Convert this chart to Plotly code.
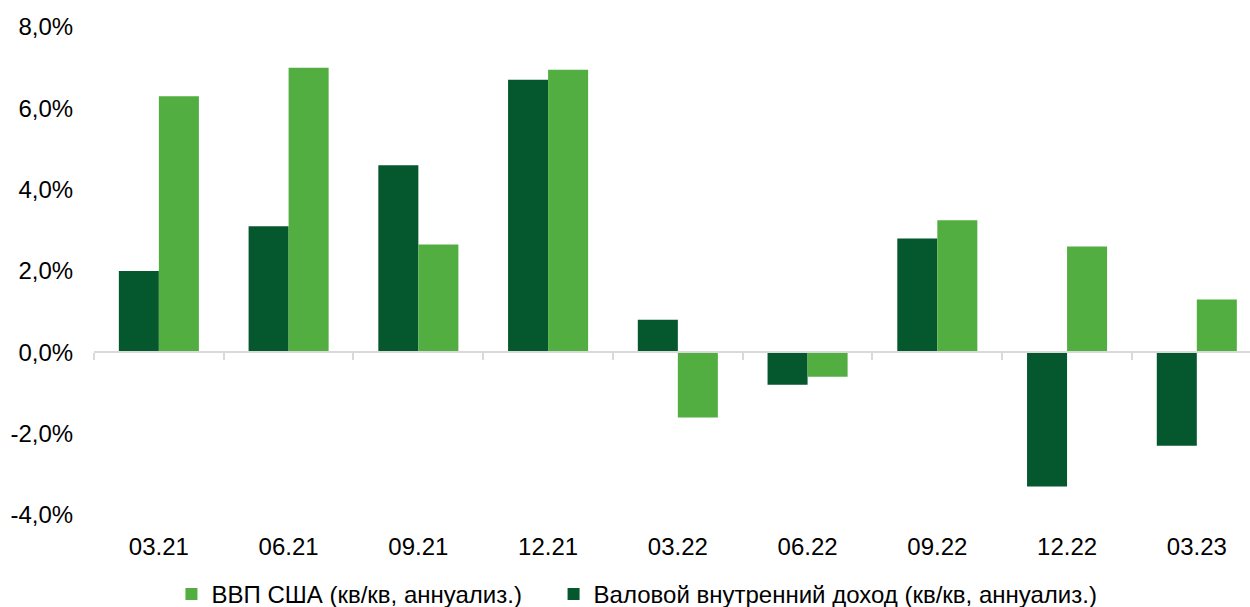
import plotly.graph_objects as go

# Quarters and annualized q/q growth rates, %
quarters = ["03.21", "06.21", "09.21", "12.21", "03.22", "06.22", "09.22", "12.22", "03.23"]
gdp_usa = [6.3, 7.0, 2.65, 6.95, -1.6, -0.6, 3.25, 2.6, 1.3]
gdi_usa = [2.0, 3.1, 4.6, 6.7, 0.8, -0.8, 2.8, -3.3, -2.3]

y_ticks = [-4, -2, 0, 2, 4, 6, 8]
y_tick_text = ["-4,0%", "-2,0%", "0,0%", "2,0%", "4,0%", "6,0%", "8,0%"]

gdp_name = "ВВП США (кв/кв, аннуализ.)"
gdi_name = "Валовой внутренний доход (кв/кв, аннуализ.)"

light_green = "#52AE40"
dark_green = "#05572E"
font_family = "Liberation Sans, Arial, sans-serif"

fig = go.Figure()
fig.add_trace(go.Bar(
    x=quarters, y=gdi_usa, name=gdi_name,
    marker=dict(color=dark_green, line=dict(width=0)),
))
fig.add_trace(go.Bar(
    x=quarters, y=gdp_usa,
    # trailing no-break spaces widen the gap between legend entries
    name=gdp_name + "\u00a0" * 4,
    marker=dict(color=light_green, line=dict(width=0)),
))
# helper trace so the zero-level axis carries the same categories
fig.add_trace(go.Scatter(
    x=quarters, y=[None] * len(quarters), xaxis="x2", yaxis="y",
    showlegend=False, hoverinfo="skip", mode="markers",
))

x_range = [-0.5, 8.41]

fig.update_layout(
    width=1250, height=607,
    margin=dict(l=94, r=0, t=27, b=92, autoexpand=False),
    paper_bgcolor="white", plot_bgcolor="white",
    font=dict(family=font_family, size=24, color="#000000"),
    barmode="group", bargap=0.383, bargroupgap=0,
    showlegend=True,
    legend=dict(
        orientation="h", traceorder="reversed",
        x=0.067, xanchor="left", y=-0.209, yanchor="bottom", yref="paper",
        font=dict(size=24), itemwidth=30,
        bgcolor="rgba(0,0,0,0)",
    ),
    xaxis=dict(
        type="category", range=x_range,
        showline=False, showgrid=False, zeroline=False,
        ticks="outside", ticklen=10, tickcolor="rgba(0,0,0,0)",
        tickfont=dict(size=24),
    ),
    xaxis2=dict(
        type="category", overlaying="x", matches="x", anchor="free",
        position=4 / 12, side="bottom",
        showline=True, linecolor="#D9D9D9", linewidth=2,
        ticks="outside", tickson="boundaries", ticklen=7,
        tickcolor="#D9D9D9", tickwidth=2,
        showticklabels=False, showgrid=False, zeroline=False,
    ),
    yaxis=dict(
        range=[-4, 8], tickvals=y_ticks, ticktext=y_tick_text,
        showgrid=False, zeroline=False, showline=False,
        ticks="outside", ticklen=15, tickcolor="rgba(0,0,0,0)",
        tickfont=dict(size=24),
    ),
)

fig.write_html("out.html")
